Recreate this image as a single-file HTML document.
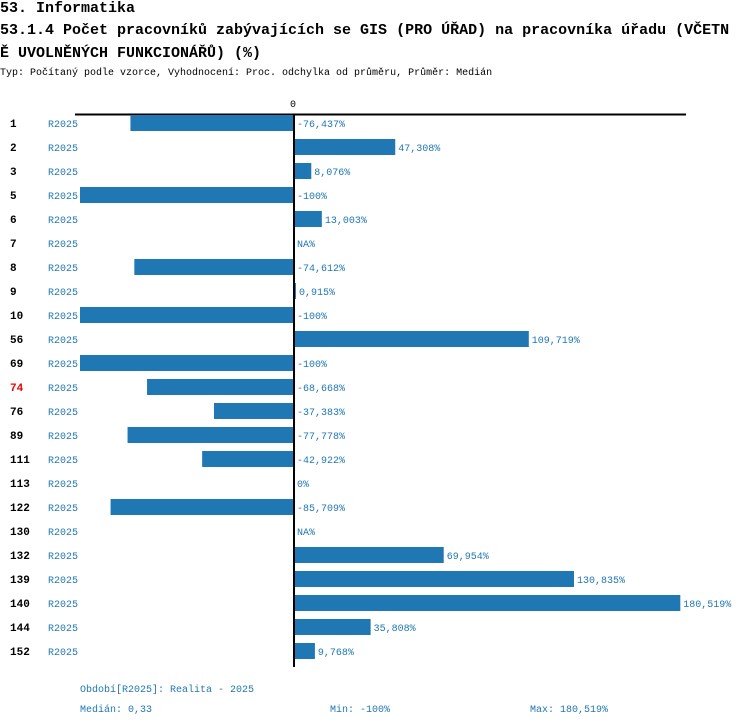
<!DOCTYPE html>
<html><head><meta charset="utf-8"><style>
body{margin:0;background:#fff;width:750px;height:726px;overflow:hidden;font-family:"Liberation Mono",monospace}
.t{position:absolute;white-space:nowrap}
</style></head><body>
<div class="t" style="left:0;top:-1px;font-size:15px;font-weight:bold;line-height:20px">53. Informatika</div>
<div class="t" style="left:0;top:19px;font-size:15px;font-weight:bold;line-height:23px;width:750px;white-space:normal;overflow:hidden">53.1.4 Počet pracovníků zabývajících se GIS (PRO ÚŘAD) na pracovníka úřadu (VČETN<br>Ě UVOLNĚNÝCH FUNKCIONÁŘŮ) (%)</div>
<div class="t" style="left:0;top:68px;font-size:10px">Typ: Počítaný podle vzorce, Vyhodnocení: Proc. odchylka od průměru, Průměr: Medián</div>
<svg id="c" width="750" height="726" style="position:absolute;left:0;top:0"></svg>
<script>
const categories=["1","2","3","5","6","7","8","9","10","56","69","74","76","89","111","113","122","130","132","139","140","144","152"];
const values=[-76.437,47.308,8.076,-100,13.003,null,-74.612,0.915,-100,109.719,-100,-68.668,-37.383,-77.778,-42.922,0,-85.709,null,69.954,130.835,180.519,35.808,9.768];
const labels=["-76,437%","47,308%","8,076%","-100%","13,003%","NA%","-74,612%","0,915%","-100%","109,719%","-100%","-68,668%","-37,383%","-77,778%","-42,922%","0%","-85,709%","NA%","69,954%","130,835%","180,519%","35,808%","9,768%"];
const highlight="74";
const NS="http://www.w3.org/2000/svg";
const svg=document.getElementById('c');
const x0=294,scale=2.14;
const xs=v=>x0+v*scale;
const ys=i=>123+i*24;
function mk(t,a,txt){const e=document.createElementNS(NS,t);for(const k in a)e.setAttribute(k,a[k]);if(txt!=null)e.textContent=txt;svg.appendChild(e);return e;}
let e=mk('line',{x1:75,y1:114.5,x2:686,y2:114.5,stroke:'#000','stroke-width':2});


e=mk('text',{x:x0-1,y:107,'font-size':10,'text-anchor':'middle','font-family':'Liberation Mono,monospace'},'0');


categories.forEach((c,i)=>{
 const y=ys(i);
 let t=mk('text',{x:10,y:y+4,'font-size':11,'font-weight':'bold',fill:c===highlight?'#e00':'#000','font-family':'Liberation Mono,monospace'},c);
 
 
 t=mk('text',{x:48,y:y+4,'font-size':10,fill:'#1f77b4','font-family':'Liberation Mono,monospace'},'R2025');
 
 
 const v=values[i];
 if(v!=null&&v!==0){
  const a=xs(Math.min(0,v)),b=xs(Math.max(0,v));
  const r=mk('rect',{x:a,y:y-8,width:b-a,height:16,fill:'#1f77b4'});
  
  
 }
 const lx=(v!=null&&v>0)?xs(v)+3:x0+3;
 t=mk('text',{x:lx,y:y+4,'font-size':10,fill:'#1f77b4','font-family':'Liberation Mono,monospace'},labels[i]);
 
 
});
e=mk('line',{x1:x0,y1:114,x2:x0,y2:667,stroke:'#000','stroke-width':2});


const foot=[[80,692,'Období[R2025]: Realita - 2025'],[80,712,'Medián: 0,33'],[330,712,'Min: -100%'],[530,712,'Max: 180,519%']];
foot.forEach(f=>{const t=mk('text',{x:f[0],y:f[1],'font-size':10,fill:'#1f77b4','font-family':'Liberation Mono,monospace'},f[2]);
 
 });
</script>
</body></html>
